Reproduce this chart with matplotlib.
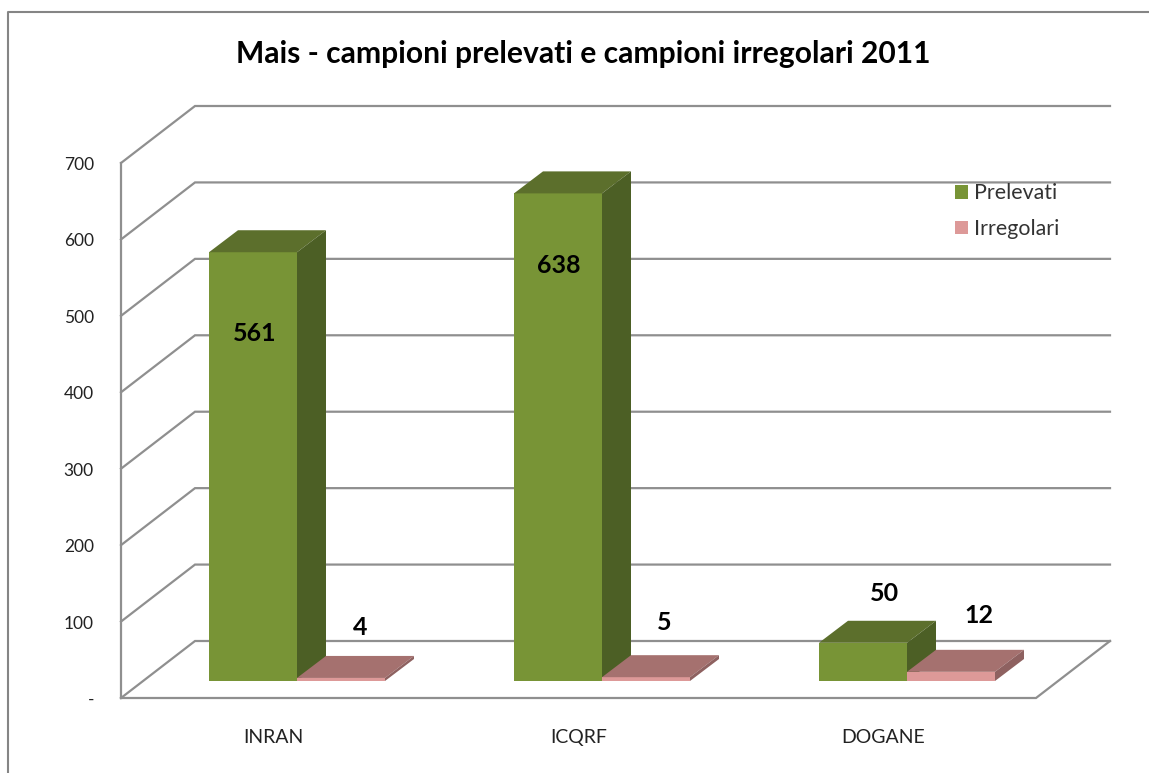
import matplotlib
matplotlib.use('Agg')
import matplotlib.pyplot as plt
from matplotlib.lines import Line2D
from matplotlib.patches import Patch
from matplotlib.transforms import ScaledTranslation

plt.rcParams['font.family'] = ['Lato', 'DejaVu Sans']

title = 'Mais - campioni prelevati e campioni irregolari 2011'
categories = ['INRAN', 'ICQRF', 'DOGANE']
prelevati = [561, 638, 50]
irregolari = [4, 5, 12]
y_ticks = [0, 100, 200, 300, 400, 500, 600, 700]
y_tick_labels = ['-', '100', '200', '300', '400', '500', '600', '700']

# scale of the chart, pixels per category and per unit
PX_X = 305.0
PX_Y = 535 / 700

# depth of the 3d box and of the bars, in data units
wall_dx = 74 / PX_X
wall_dy = 57 / PX_Y
bar_w = 88 / PX_X
bar_dx = 29 / PX_X
bar_dy = 22 / PX_Y
base_dx = 23.5 / PX_X
base_dy = 17 / PX_Y

grid_col = '#8f8f8f'


def draw_bar(ax, left, value, front, top, side):
    x0 = left
    x1 = left + bar_w
    y0 = base_dy
    y1 = base_dy + value
    ax.fill([x0, x1, x1, x0], [y0, y0, y1, y1], color=front, lw=0, zorder=3)
    ax.fill([x0, x1, x1 + bar_dx, x0 + bar_dx], [y1, y1, y1 + bar_dy, y1 + bar_dy],
            color=top, lw=0, zorder=3)
    ax.fill([x1, x1 + bar_dx, x1 + bar_dx, x1], [y0, y0 + bar_dy, y1 + bar_dy, y1],
            color=side, lw=0, zorder=3)


fig = plt.figure(figsize=(11.49, 7.73), dpi=100)
W, H = 1149, 773
ax = fig.add_axes([121 / W, 1 - 698 / H, (1112 - 121) / W, (698 - 106) / H])
ax.set_xlim(0, (1112 - 121) / PX_X)
ax.set_ylim(0, (698 - 106) / PX_Y)
for s in ax.spines.values():
    s.set_visible(False)
ax.patch.set_visible(False)

# outer frame of the chart, only left and top are visible
fig.add_artist(Line2D([8 / W, 8 / W, 1], [0, 1 - 12 / H, 1 - 12 / H], color='#858585', lw=1.5))

# walls
n = len(categories)
for v in y_ticks:
    ax.plot([0, wall_dx, n + wall_dx], [v, v + wall_dy, v + wall_dy], color=grid_col,
            lw=1.6, zorder=1, clip_on=False, solid_joinstyle='miter')
ax.plot([0, 0], [0, y_ticks[-1]], color=grid_col, lw=1.6, zorder=1, clip_on=False)
ax.plot([0, n, n + wall_dx], [0, 0, wall_dy], color=grid_col, lw=1.6, zorder=1,
        clip_on=False, solid_joinstyle='miter')

# bars
for i in range(n):
    left = i + 0.5 + base_dx - bar_w
    draw_bar(ax, left, prelevati[i], '#789436', '#5c6f2c', '#4c5f25')
    draw_bar(ax, left + bar_w, irregolari[i], '#dd9998', '#a5716f', '#8e6160')

# data labels, placed by hand like in the original
label_pos = [(134, 477), (438, 566), (239, 92), (543, 99), (763, 137), (858, 108)]
label_val = prelevati[:2] + irregolari[:2] + prelevati[2:] + irregolari[2:]
for (px, y), v in zip(label_pos, label_val):
    ax.text(px / PX_X, y, str(v), ha='center', va='center', fontsize=18,
            fontweight='bold', color='black', zorder=5)

ax.set_yticks(y_ticks)
ax.set_yticklabels(y_tick_labels)
ax.set_xticks([i + 0.5 for i in range(n)])
ax.set_xticklabels(categories)
ax.tick_params(axis='y', length=0, pad=19.5, labelsize=12.5, labelcolor='#222222')
ax.tick_params(axis='x', length=0, pad=22, labelsize=14, labelcolor='#222222')
shift = ScaledTranslation(0, -2 / 100, fig.dpi_scale_trans)
for lab in ax.get_yticklabels():
    lab.set_verticalalignment('center')
    lab.set_transform(lab.get_transform() + shift)

handles = [Patch(facecolor='#789436', label='Prelevati'),
           Patch(facecolor='#dd9998', label='Irregolari')]
ax.legend(handles=handles, frameon=False, fontsize=15.4, loc='upper left',
          bbox_to_anchor=((949 - 121) / (1112 - 121), (698 - 177) / (698 - 106)),
          handlelength=0.58, handleheight=0.58, handletextpad=0.3, labelspacing=0.72,
          borderpad=0.3, borderaxespad=0, labelcolor='#333333')

fig.text(583 / W, 1 - 54 / H, title, ha='center', va='center', fontsize=21.6,
         fontweight='bold', color='black')

fig.savefig('out.png', dpi=100)
plt.close(fig)
